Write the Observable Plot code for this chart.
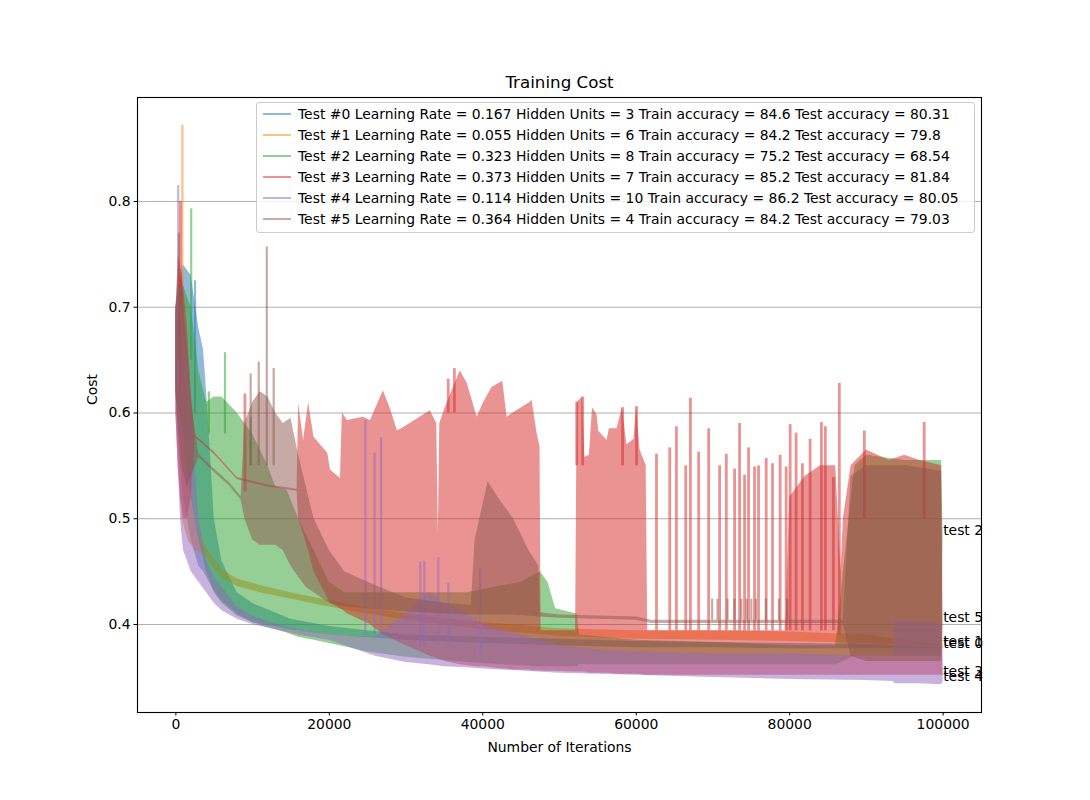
<!DOCTYPE html>
<html><head><meta charset="utf-8">
<script src="https://cdn.jsdelivr.net/npm/d3@7"></script>
<script src="https://cdn.jsdelivr.net/npm/@observablehq/plot@0.6"></script>
<style>
body{margin:0;background:#fff;font-family:"DejaVu Sans",sans-serif;}
#wrap{position:relative;width:1090px;height:800px;}
#legend{position:absolute;left:256px;top:102px;width:717px;height:129px;border:1px solid #cccccc;border-radius:3px;background:rgba(255,255,255,0.8);font-size:13.9px;color:#000;}
.row{position:absolute;left:6px;height:21px;display:flex;align-items:center;white-space:nowrap;}
.sw{width:28px;height:2px;margin-right:7px;opacity:0.5;}
</style></head><body><div id="wrap"></div>
<script>
const names = ["test 0", "test 1", "test 2", "test 3", "test 4", "test 5"];
const legendLabels = [
  "Test #0 Learning Rate = 0.167 Hidden Units = 3 Train accuracy = 84.6 Test accuracy = 80.31",
  "Test #1 Learning Rate = 0.055 Hidden Units = 6 Train accuracy = 84.2 Test accuracy = 79.8",
  "Test #2 Learning Rate = 0.323 Hidden Units = 8 Train accuracy = 75.2 Test accuracy = 68.54",
  "Test #3 Learning Rate = 0.373 Hidden Units = 7 Train accuracy = 85.2 Test accuracy = 81.84",
  "Test #4 Learning Rate = 0.114 Hidden Units = 10 Train accuracy = 86.2 Test accuracy = 80.05",
  "Test #5 Learning Rate = 0.364 Hidden Units = 4 Train accuracy = 84.2 Test accuracy = 79.03"
];
const endY = [0.377, 0.379, 0.484, 0.351, 0.346, 0.402];
const tickX = [0, 20000, 40000, 60000, 80000, 100000];
const tickY = [0.4, 0.5, 0.6, 0.7, 0.8];

// envelope (min/max) of each noisy cost curve
const x0 = [0, 500, 1000, 2000, 3000, 3600, 4000, 4600, 5000, 6000, 8000, 10000, 15000, 20000, 30000, 40000, 50000, 60000, 70000, 80000, 90000, 100000];
const hi0 = [0.70, 0.72, 0.74, 0.73, 0.68, 0.66, 0.62, 0.55, 0.50, 0.46, 0.43, 0.42, 0.405, 0.398, 0.39, 0.388, 0.386, 0.384, 0.383, 0.382, 0.381, 0.378];
const lo0 = [0.62, 0.56, 0.52, 0.48, 0.455, 0.45, 0.445, 0.437, 0.432, 0.422, 0.41, 0.402, 0.395, 0.39, 0.385, 0.382, 0.38, 0.378, 0.378, 0.377, 0.377, 0.377];

const x1 = [0, 400, 800, 1200, 1600, 2000, 2500, 3000, 4000, 6000, 8000, 11000, 15000, 19000, 24000, 30000, 40000, 50000, 60000, 70000, 80000, 90000, 100000];
const hi1 = [0.70, 0.72, 0.74, 0.66, 0.58, 0.53, 0.50, 0.485, 0.472, 0.452, 0.443, 0.437, 0.43, 0.424, 0.417, 0.41, 0.402, 0.396, 0.394, 0.394, 0.393, 0.39, 0.38];
const lo1 = [0.63, 0.55, 0.50, 0.49, 0.48, 0.475, 0.47, 0.468, 0.463, 0.444, 0.436, 0.430, 0.424, 0.418, 0.411, 0.404, 0.395, 0.389, 0.386, 0.385, 0.384, 0.382, 0.379];

const x2 = [0, 1000, 2000, 3000, 4000, 5000, 6000, 8000, 10000, 12000, 13000, 14500, 16000, 18000, 20000, 22000, 25000, 30000, 38000, 45000, 47500, 48500, 49500, 52300, 52600, 60000, 70000, 80000, 86000, 87000, 88500, 90000, 95000, 99800, 100000];
const hi2 = [0.70, 0.72, 0.70, 0.64, 0.61, 0.615, 0.615, 0.60, 0.58, 0.55, 0.53, 0.527, 0.50, 0.47, 0.44, 0.43, 0.43, 0.43, 0.43, 0.44, 0.45, 0.44, 0.415, 0.41, 0.39, 0.385, 0.383, 0.38, 0.38, 0.45, 0.55, 0.56, 0.555, 0.555, 0.484];
const lo2 = [0.62, 0.58, 0.52, 0.48, 0.45, 0.43, 0.42, 0.408, 0.402, 0.397, 0.395, 0.392, 0.388, 0.385, 0.382, 0.379, 0.374, 0.369, 0.364, 0.361, 0.36, 0.36, 0.36, 0.36, 0.362, 0.362, 0.362, 0.362, 0.362, 0.365, 0.37, 0.37, 0.37, 0.37, 0.484];

const x3 = [0, 300, 600, 1000, 1500, 2000, 2500, 5000, 8000, 12000,
  15800, 16000, 16650, 17300, 18000, 19800, 20150, 21450, 21700, 22350,
  24450, 25360, 27050, 27960, 28870, 29650, 33160, 34000, 34200, 34400,
  35110, 37060, 37970, 39270, 40050, 41200, 42600, 43170, 43950, 46160,
  46420, 47070, 47460, 47600, 52100, 52300, 53020, 53300, 53900, 54300,
  54900, 55100, 56200, 56500, 57500, 58200, 58800, 59700, 60040, 60500,
  61300, 61500, 79500, 80000, 82000, 84000, 86000, 86700, 87000, 88000,
  90000, 93000, 95000, 97000, 99800, 100000];
const hi3 = [0.69, 0.75, 0.74, 0.72, 0.68, 0.62, 0.579, 0.563, 0.539, 0.532,
  0.528, 0.609, 0.574, 0.61, 0.577, 0.562, 0.546, 0.538, 0.60, 0.593,
  0.596, 0.593, 0.621, 0.604, 0.583, 0.586, 0.602, 0.59, 0.486, 0.59,
  0.605, 0.64, 0.628, 0.596, 0.609, 0.624, 0.63, 0.596, 0.60, 0.61,
  0.612, 0.581, 0.568, 0.394, 0.394, 0.61, 0.615, 0.558, 0.56, 0.605,
  0.598, 0.583, 0.574, 0.585, 0.585, 0.605, 0.57, 0.575, 0.606, 0.565,
  0.55, 0.394, 0.394, 0.52, 0.54, 0.55, 0.55, 0.45, 0.50, 0.55,
  0.565, 0.555, 0.56, 0.555, 0.55, 0.351];
const lo3 = [0.60, 0.55, 0.52, 0.50, 0.50, 0.52, 0.577, 0.561, 0.537, 0.530,
  0.526, 0.50, 0.485, 0.47, 0.45, 0.425, 0.42, 0.415, 0.414, 0.41,
  0.403, 0.40, 0.39, 0.387, 0.384, 0.381, 0.37, 0.368, 0.367, 0.367,
  0.365, 0.362, 0.361, 0.36, 0.36, 0.359, 0.358, 0.358, 0.357, 0.357,
  0.356, 0.356, 0.356, 0.356, 0.355, 0.355, 0.355, 0.355, 0.354, 0.354,
  0.354, 0.354, 0.354, 0.354, 0.353, 0.353, 0.353, 0.353, 0.353, 0.353,
  0.352, 0.352, 0.352, 0.352, 0.352, 0.352, 0.352, 0.352, 0.352, 0.352,
  0.352, 0.352, 0.352, 0.352, 0.352, 0.351];

const x4 = [0, 300, 600, 1000, 2000, 3000, 4000, 5000, 6000, 8000, 10000, 13000, 16000, 20000, 26000, 30000, 33000, 35000, 38000, 40000, 45000, 50000, 55000, 60000, 70000, 80000, 90000, 93500, 93700, 97000, 99800, 100000];
const hi4 = [0.69, 0.72, 0.72, 0.68, 0.60, 0.50, 0.46, 0.445, 0.435, 0.417, 0.408, 0.40, 0.395, 0.39, 0.388, 0.41, 0.43, 0.42, 0.41, 0.40, 0.39, 0.38, 0.376, 0.374, 0.372, 0.372, 0.37, 0.37, 0.403, 0.403, 0.40, 0.346];
const lo4 = [0.60, 0.55, 0.50, 0.47, 0.45, 0.44, 0.43, 0.42, 0.413, 0.405, 0.40, 0.395, 0.39, 0.385, 0.37, 0.364, 0.362, 0.36, 0.359, 0.358, 0.356, 0.354, 0.353, 0.352, 0.35, 0.348, 0.347, 0.346, 0.344, 0.344, 0.343, 0.346];

const x5 = [0, 400, 800, 1500, 2000, 3000, 5000, 7000, 8500, 9000, 10000, 11000, 12000, 13000, 14000, 15000, 16000, 17000, 18000, 20000, 22000, 25000, 30000, 35000, 38500, 39000, 40700, 42000, 44000, 46000, 47300, 47500, 50000, 55000, 60000, 62000, 70000, 80000, 87000, 88000, 90000, 95000, 99800, 100000];
const hi5 = [0.70, 0.74, 0.72, 0.66, 0.61, 0.561, 0.547, 0.534, 0.521, 0.59, 0.61, 0.62, 0.615, 0.60, 0.59, 0.595, 0.56, 0.53, 0.50, 0.47, 0.45, 0.44, 0.425, 0.42, 0.418, 0.48, 0.535, 0.52, 0.50, 0.47, 0.455, 0.411, 0.409, 0.408, 0.407, 0.404, 0.404, 0.404, 0.404, 0.54, 0.55, 0.55, 0.545, 0.402];
const lo5 = [0.62, 0.58, 0.55, 0.53, 0.54, 0.558, 0.544, 0.531, 0.518, 0.50, 0.48, 0.475, 0.475, 0.475, 0.47, 0.455, 0.445, 0.435, 0.43, 0.42, 0.417, 0.415, 0.412, 0.41, 0.409, 0.409, 0.409, 0.409, 0.409, 0.408, 0.407, 0.407, 0.406, 0.405, 0.404, 0.401, 0.401, 0.401, 0.401, 0.37, 0.365, 0.365, 0.365, 0.402];

// isolated spikes of the curves
const spikeSeries = [0, 1, 2, 2, 2, 2, 3, 3, 3, 3, 3, 3, 3, 3,
  3, 3, 3, 3, 3, 3, 3, 3, 3, 3, 3, 3, 3, 3, 3, 3, 3, 3, 3, 3, 3, 3, 3, 3, 3, 3,
  3, 3, 3,
  4, 4, 4, 4, 4, 4, 4, 4, 4,
  5, 5, 5, 5, 5,
  5, 5, 5, 5, 5, 5, 5, 5, 5, 5, 5];
const spikeX = [2500, 850, 2000, 4300, 6400, 9750, 600, 9000, 35500, 36300, 52240, 53020, 58220, 60040,
  62640, 64370, 65240, 66450, 67060, 68140, 69440, 70870, 71740, 72820, 73470, 74120, 74640, 75420, 75940, 76940, 77760, 78760, 79540, 80060, 80840, 81660, 82660, 84130, 84650, 85700,
  86470, 89730, 97530,
  300, 24700, 25900, 26750, 31860, 32380, 34200, 35500, 39660,
  400, 9750, 10800, 11850, 12750,
  69900, 70600, 71900, 72800, 73700, 74400, 75000, 75600, 76900, 78600, 79700];
const spikeBase = [0.60, 0.60, 0.65, 0.58, 0.58, 0.55, 0.62, 0.525, 0.60, 0.60, 0.55, 0.55, 0.55, 0.55,
  0.394, 0.394, 0.394, 0.394, 0.394, 0.394, 0.394, 0.394, 0.394, 0.394, 0.394, 0.394, 0.394, 0.394, 0.394, 0.394, 0.394, 0.394, 0.394, 0.394, 0.394, 0.394, 0.394, 0.394, 0.394, 0.394,
  0.39, 0.50, 0.50,
  0.62, 0.39, 0.39, 0.39, 0.38, 0.38, 0.38, 0.38, 0.37,
  0.65, 0.55, 0.55, 0.55, 0.55,
  0.404, 0.404, 0.404, 0.404, 0.404, 0.404, 0.404, 0.404, 0.404, 0.404, 0.404];
const spikeTop = [0.725, 0.872, 0.793, 0.62, 0.657, 0.596, 0.80, 0.618, 0.632, 0.642, 0.610, 0.615, 0.605, 0.606,
  0.561, 0.567, 0.587, 0.55, 0.614, 0.563, 0.585, 0.55, 0.561, 0.547, 0.59, 0.541, 0.567, 0.549, 0.55, 0.557, 0.552, 0.56, 0.549, 0.589, 0.581, 0.552, 0.575, 0.591, 0.587, 0.539,
  0.628, 0.583, 0.591,
  0.815, 0.593, 0.562, 0.577, 0.459, 0.46, 0.463, 0.439, 0.453,
  0.77, 0.637, 0.648, 0.757, 0.642,
  0.424, 0.424, 0.424, 0.424, 0.424, 0.424, 0.424, 0.424, 0.424, 0.424, 0.424];

const colors = ["#1f77b4", "#ff7f0e", "#2ca02c", "#d62728", "#9467bd", "#8c564b"];

const bandX = [x0, x1, x2, x3, x4, x5];
const bandLo = [lo0, lo1, lo2, lo3, lo4, lo5];
const bandHi = [hi0, hi1, hi2, hi3, hi4, hi5];
const bandRows = [];
bandX.forEach((xs, s) => xs.forEach((x, i) => bandRows.push({s, x, lo: bandLo[s][i], hi: bandHi[s][i]})));
const spikeRows = spikeX.map((x, i) => ({s: spikeSeries[i], x, base: spikeBase[i], top: spikeTop[i]}));
const endRows = names.map((n, i) => ({name: n, x: 100000, y: endY[i]}));

const marks = [Plot.gridY(tickY, {stroke: "#b0b0b0", strokeOpacity: 1, strokeWidth: 1})];
for (let s = 0; s < 6; s++) {
  marks.push(Plot.areaY(bandRows.filter(d => d.s === s), {x: "x", y1: "lo", y2: "hi", fill: colors[s], fillOpacity: 0.5, curve: "linear"}));
  marks.push(Plot.ruleX(spikeRows.filter(d => d.s === s), {x: "x", y1: "base", y2: "top", stroke: colors[s], strokeOpacity: 0.5, strokeWidth: s === 3 ? 2.8 : 2.2}));
}
marks.push(
  Plot.frame({stroke: "black", strokeWidth: 1.1}),
  Plot.axisX({ticks: tickX, tickSize: 3.5, tickPadding: 3.5, tickFormat: d => String(d), label: null, fontSize: 13.9}),
  Plot.axisY({ticks: tickY, tickSize: 3.5, tickPadding: 3.5, tickFormat: d => d.toFixed(1), label: null, fontSize: 13.9}),
  Plot.text(endRows, {x: "x", y: "y", text: "name", textAnchor: "start", lineAnchor: "middle", dy: -5, fontSize: 13.9, fill: "black"}),
  Plot.text(["Training Cost"], {frameAnchor: "top", text: d => d, dy: -15, lineAnchor: "middle", fontSize: 16.7}),
  Plot.text(["Number of Iterations"], {frameAnchor: "bottom", text: d => d, dy: 35, lineAnchor: "middle", fontSize: 13.9}),
  Plot.text(["Cost"], {frameAnchor: "left", text: d => d, dx: -45, rotate: -90, lineAnchor: "middle", fontSize: 13.9})
);

const chart = Plot.plot({
  width: 1090, height: 800,
  marginLeft: 137, marginRight: 109, marginTop: 97, marginBottom: 88,
  x: {type: "linear", domain: [-5000, 105000]},
  y: {type: "linear", domain: [0.3168, 0.8983]},
  style: {fontFamily: "DejaVu Sans", fontSize: "13.9px", color: "black", background: "white", overflow: "visible"},
  marks
});
const wrap = document.getElementById("wrap");
wrap.appendChild(chart);

const legend = document.createElement("div");
legend.id = "legend";
legendLabels.forEach((lab, i) => {
  const row = document.createElement("div");
  row.className = "row";
  row.style.top = (i * 21) + "px";
  const sw = document.createElement("span");
  sw.className = "sw";
  sw.style.background = colors[i];
  const tx = document.createElement("span");
  tx.textContent = lab;
  row.appendChild(sw); row.appendChild(tx);
  legend.appendChild(row);
});
wrap.appendChild(legend);
</script></body></html>
